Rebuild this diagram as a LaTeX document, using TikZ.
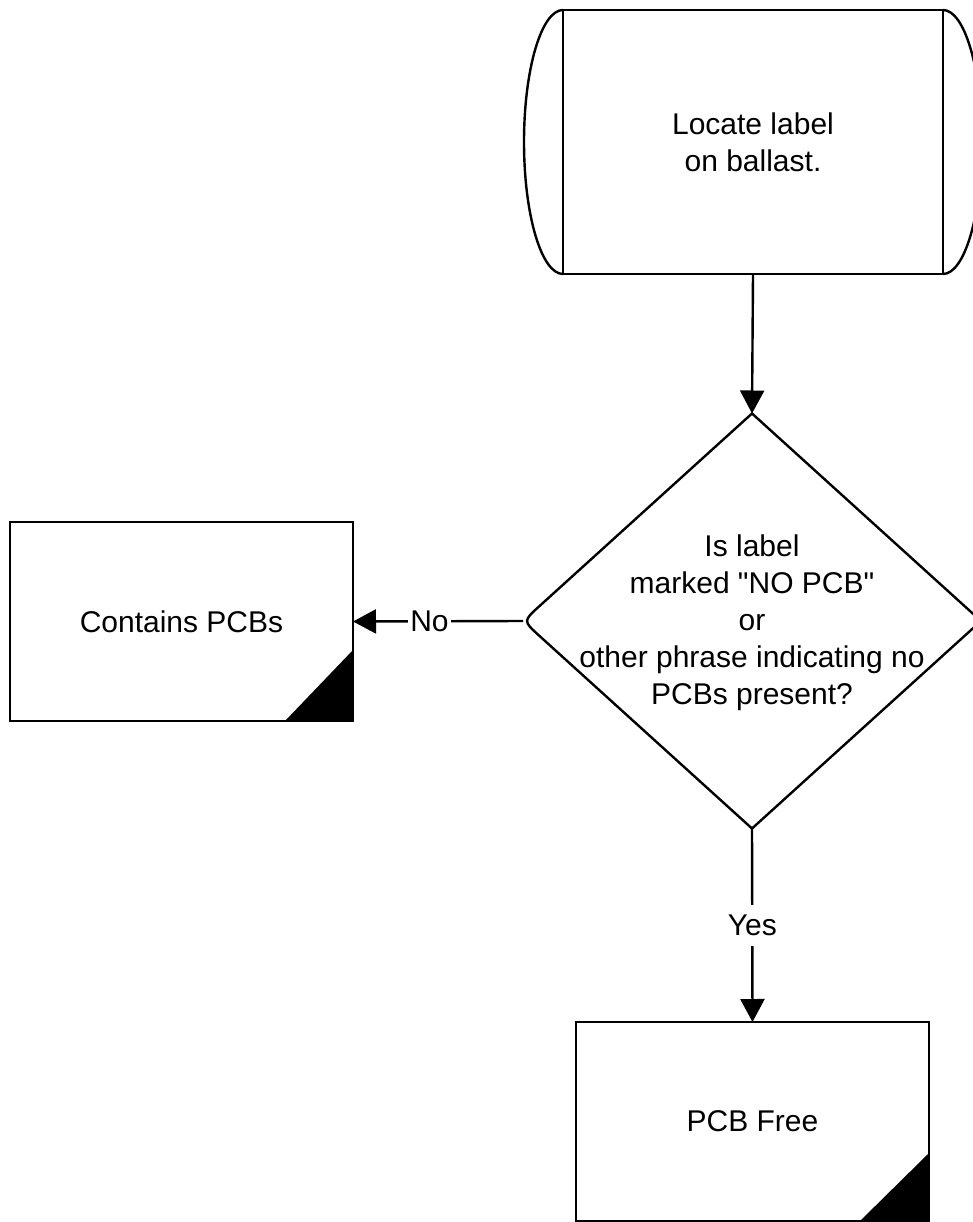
\documentclass[tikz,border=0pt]{standalone}
\usepackage{fontspec}
\setmainfont{Liberation Sans}[Ligatures=TeXOff]
\usetikzlibrary{arrows.meta,shapes.geometric,calc}
\begin{document}
\begin{tikzpicture}[x=1pt,y=-1pt,
  every node/.style={font=\fontsize{30}{37}\selectfont, align=center},
  box/.style={draw, line width=2.4pt, rectangle, inner sep=0pt, outer sep=0pt},
  conn/.style={line width=2.4pt, -{Triangle[length=23pt,width=24pt]}},
  lbl/.style={fill=white, inner xsep=2pt, inner ysep=10pt}
]
\useasboundingbox (0,0) rectangle (973,1222);
\fill[white] (0,0) rectangle (973,1222);
\clip (0,0) rectangle (973,1222);

% start shape
\node[box, minimum width=380pt, minimum height=264pt] (loc) at (753,142) {Locate label\\on ballast.};
\draw[line width=2.4pt] (loc.north west) arc[start angle=90, end angle=270, x radius=39pt, y radius=132pt];
\draw[line width=2.4pt] (loc.north east) arc[start angle=90, end angle=-90, x radius=39pt, y radius=132pt];

% decision
\node[diamond, minimum width=458pt, minimum height=415pt, inner sep=0pt, outer sep=0pt] (dec) at (752,621) {};
\draw[line width=2.4pt, line join=miter]
  (dec.north) -- (dec.east) -- (dec.south)
  -- ($(dec.west)!22pt!(dec.south)$) .. controls (dec.west) .. ($(dec.west)!22pt!(dec.north)$)
  -- cycle;
\node (dectext) at (752,623) {Is label\\marked "NO PCB"\\or\\other phrase indicating no\\PCBs present?};

% outcome boxes
\node[box, minimum width=343pt, minimum height=199pt] (cont) at (181.5,621.5) {Contains PCBs};
\fill (cont.south east) -- ++(-68,0) -- ++(68,-71) -- cycle;

\node[box, minimum width=353pt, minimum height=199pt] (free) at (752.5,1121.5) {PCB Free};
\fill (free.south east) -- ++(-69,0) -- ++(69,-68) -- cycle;

% connectors
\draw[conn] (loc.south) -- (dec.north);
\draw[conn] (dec.west) -- node[lbl, pos=0.55] {No} (cont.east);
\draw[conn] (dec.south) -- node[lbl] {Yes} (free.north);
\end{tikzpicture}
\end{document}
